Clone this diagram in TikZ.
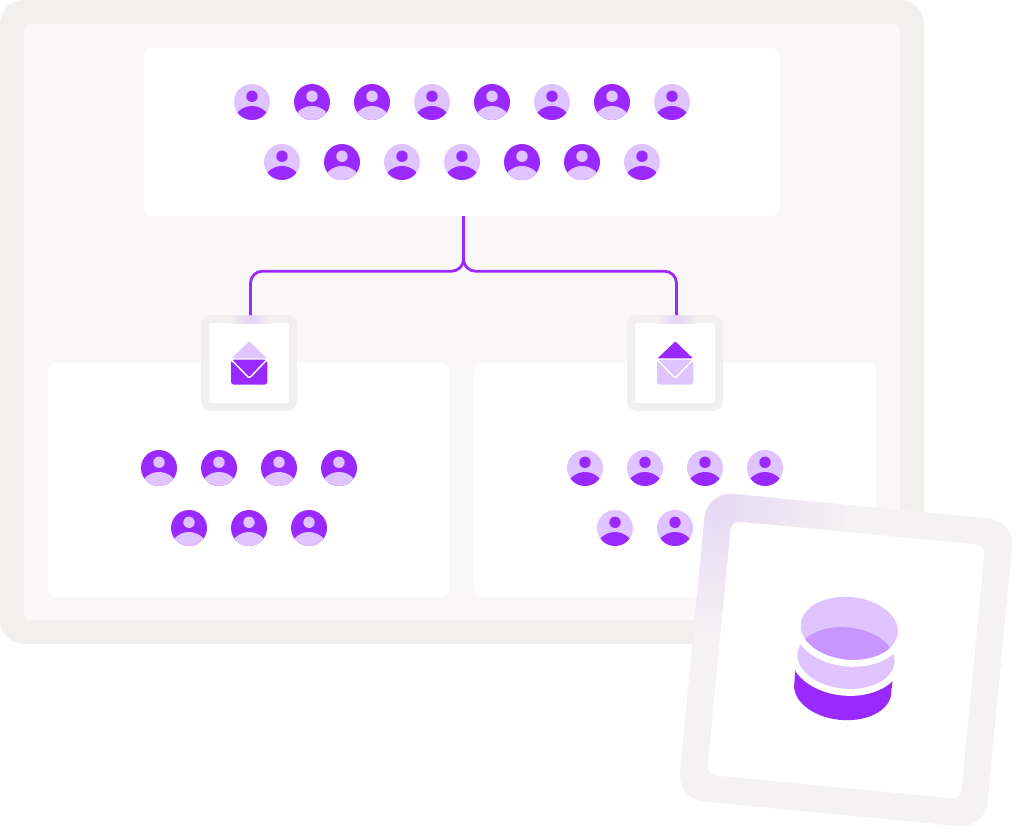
\documentclass[tikz,border=0pt]{standalone}
\usepackage{tikz}
\definecolor{FrameGray}{HTML}{F1F0EE}
\definecolor{BoardPale}{HTML}{F9F7F8}
\definecolor{CardGray}{HTML}{F4F2F3}
\definecolor{GlowPale}{HTML}{E6D8F3}
\definecolor{UserPale}{HTML}{E0C4FF}
\definecolor{UserViolet}{HTML}{9929FF}
\definecolor{DiskMid}{HTML}{C996FF}
\tikzset{
  panel/.style={rectangle,fill=white,rounded corners=8pt,inner sep=0pt},
  mailbox/.style={rectangle,draw=FrameGray,line width=8pt,fill=white,
    rounded corners=6pt,inner sep=0pt,minimum size=88pt},
  link/.style={draw=UserViolet,line width=2.8pt,rounded corners=12pt},
  pics/person/.style 2 args={code={
    \fill[#1] (0,0) circle (18);
    \fill[#2] (0,-5.7) circle (5.7);
    \begin{scope}
      \clip (0,0) circle (18);
      \fill[#2] (0,23.5) circle (19.5);
    \end{scope}}},
  pics/mail/.style 2 args={code={
    \fill[#1,rounded corners=1pt] (-17.5,-4.6) -- (0.3,-21.6) -- (18,-4.6) -- cycle;
    \fill[#2,rounded corners=3pt] (-18,-3.4) rectangle (18.3,21.7);
    \draw[white,line width=1.5pt,rounded corners=2pt] (-18,-3.6) -- (0.2,15.2) -- (18.3,-3.6);}}
}
\begin{document}
\begin{tikzpicture}[x=1pt,y=-1pt]
    \useasboundingbox (0,0) rectangle (1015,837);
    \fill[white] (0,0) rectangle (1015,837);
    \fill[FrameGray,rounded corners=24pt] (0,0) rectangle (924,644);
    \fill[BoardPale,rounded corners=6pt] (24,24) rectangle (900,620);
    \node[panel,minimum width=636pt,minimum height=168pt] (toppanel) at (462,132) {};
    \node[panel,minimum width=402pt,minimum height=234pt] (leftpanel) at (249,480) {};
    \node[panel,minimum width=402pt,minimum height=234pt] (rightpanel) at (675,480) {};
    % people
    \foreach \x/\y in {252/102,432/102,552/102,672/102,282/162,402/162,462/162,642/162,
                       585/468,645/468,705/468,765/468,615/528,675/528}{
      \pic at (\x,\y) {person={UserPale}{UserViolet}};}
    \foreach \x/\y in {312/102,372/102,492/102,612/102,342/162,522/162,582/162,
                       159/468,219/468,279/468,339/468,189/528,249/528,309/528}{
      \pic at (\x,\y) {person={UserViolet}{UserPale}};}
    % mail boxes and connector
    \node[mailbox] (leftmail) at (249,363) {};
    \node[mailbox] (rightmail) at (675,363) {};
    \shade[left color=FrameGray,right color=FrameGray,middle color=GlowPale!80!UserPale]
      (231,315) rectangle (270,323);
    \shade[left color=FrameGray,right color=FrameGray,middle color=GlowPale!80!UserPale]
      (657,315) rectangle (696,323);
    \draw[link] ([xshift=1.5pt]toppanel.south) -- ++(0,55) -| ([xshift=1.5pt]leftmail.north);
    \draw[link] ([xshift=1.5pt]toppanel.south) -- ++(0,55) -| ([xshift=1.5pt]rightmail.north);
    \pic at (leftmail) {mail={UserPale}{UserViolet}};
    \pic at (rightmail) {mail={UserViolet}{UserPale}};
    % tilted card
    \begin{scope}[shift={(846,660)},rotate=-5.5]
      \begin{scope}
        \clip[rounded corners=26pt] (-154.5,-154.5) rectangle (154.5,154.5);
        \fill[CardGray] (-155,-155) rectangle (155,155);
        \shade[inner color=GlowPale,outer color=CardGray] (-145,-145) circle (130);
      \end{scope}
      \fill[white,rounded corners=9pt] (-127.5,-127.5) rectangle (127.5,127.5);
    \end{scope}
    % database
    \fill[UserViolet] (842.8,689) ellipse [x radius=48.7,y radius=31,rotate=-5.5];
    \fill[UserViolet] (794.3,689) -- (795.2,665) -- (893.2,675) -- (891.6,689) -- cycle;
    \fill[white] (846,658) ellipse [x radius=55.7,y radius=37.7,rotate=-5.5];
    \fill[UserPale] (846,658) ellipse [x radius=48.7,y radius=30.7,rotate=-5.5];
    \fill[white] (849.3,628.3) ellipse [x radius=55.7,y radius=38.3,rotate=-5.5];
    \fill[UserPale] (849.3,628.3) ellipse [x radius=48.7,y radius=31.3,rotate=-5.5];
    \begin{scope}
      \clip (849.3,628.3) ellipse [x radius=48.7,y radius=31.3,rotate=-5.5];
      \fill[DiskMid] (846,658) ellipse [x radius=48.7,y radius=30.7,rotate=-5.5];
    \end{scope}
\end{tikzpicture}
\end{document}
